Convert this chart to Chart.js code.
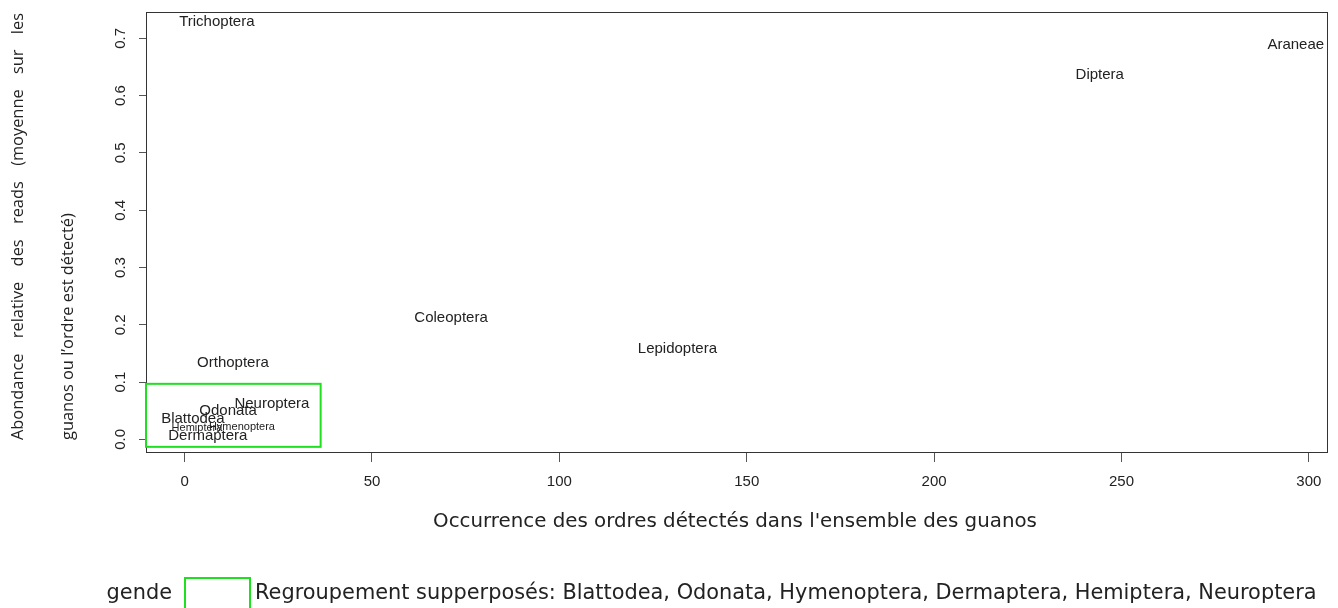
<!DOCTYPE html>
<html lang="fr">
<head>
<meta charset="UTF-8">
<script src="https://cdn.jsdelivr.net/npm/chart.js"></script>
<title>Ordres détectés</title>
<style>
  body{margin:0; background:#fff;}
  #wrap{width:1338px; height:608px;}
</style>
</head>
<body>
<div id="wrap"><canvas id="myChart" width="1338" height="608"></canvas></div>
<script>
// ordres et valeurs
const orders = ['Trichoptera','Araneae','Diptera','Coleoptera','Lepidoptera','Orthoptera',
  'Neuroptera','Odonata','Blattodea','Hymenoptera','Hemiptera','Dermaptera'];
const occurrence = [8.6, 296.5, 244.2, 71.1, 131.5, 12.9, 23.3, 11.6, 2.2, 15.3, 3.3, 6.2];
const abundance = [0.728, 0.688, 0.636, 0.212, 0.158, 0.133, 0.062, 0.049, 0.035, 0.0215, 0.0197, 0.006];
const smallLabels = ['Hymenoptera','Hemiptera'];

const xTicks = [0, 50, 100, 150, 200, 250, 300];
const yTicks = [0.0, 0.1, 0.2, 0.3, 0.4, 0.5, 0.6, 0.7];

// rectangle vert des points superposés
const groupX = [-10.3, 36.3];
const groupY = [-0.013, 0.097];

const xTitle = "Occurrence des ordres détectés dans l'ensemble des guanos";
const yTitle1 = 'Abondance relative des reads (moyenne sur les';
const yTitle2 = 'guanos ou l’ordre est détecté)';
const legendLead = 'gende';
const legendText = 'Regroupement supperposés: Blattodea, Odonata, Hymenoptera, Dermaptera, Hemiptera, Neuroptera';

function fitSize(ctx, text, family, width){
  ctx.font = '100px ' + family;
  return 100 * width / ctx.measureText(text).width;
}

const drawPlugin = {
  id: 'drawPlugin',
  afterDraw(chart){
    const ctx = chart.ctx;
    const a = chart.chartArea;
    const xs = chart.scales.x, ys = chart.scales.y;
    ctx.save();

    // cadre
    ctx.strokeStyle = '#333';
    ctx.lineWidth = 1;
    ctx.strokeRect(Math.round(a.left)+0.5, Math.round(a.top)+0.5, Math.round(a.right-a.left)-1, Math.round(a.bottom-a.top));

    // étiquettes des ordres
    ctx.fillStyle = '#222';
    ctx.textAlign = 'center';
    ctx.textBaseline = 'middle';
    for(let i=0;i<orders.length;i++){
      const small = smallLabels.includes(orders[i]);
      ctx.font = (small ? '11px' : '15px') + ' "Liberation Sans", Arial, sans-serif';
      ctx.fillText(orders[i], xs.getPixelForValue(occurrence[i]), ys.getPixelForValue(abundance[i]));
    }

    // rectangle vert
    ctx.strokeStyle = '#1fe01f';
    ctx.lineWidth = 2;
    const rx0 = xs.getPixelForValue(groupX[0]), rx1 = xs.getPixelForValue(groupX[1]);
    const ry0 = ys.getPixelForValue(groupY[1]), ry1 = ys.getPixelForValue(groupY[0]);
    ctx.strokeRect(rx0, ry0, rx1-rx0, ry1-ry0);

    // étiquettes de l'axe y (verticales)
    ctx.fillStyle = '#222';
    ctx.font = '15px "Liberation Sans", Arial, sans-serif';
    yTicks.forEach(v => {
      ctx.save();
      ctx.translate(121, ys.getPixelForValue(v));
      ctx.rotate(-Math.PI/2);
      ctx.textAlign = 'center';
      ctx.textBaseline = 'middle';
      ctx.fillText(v.toFixed(1), 0, 0);
      ctx.restore();
    });

    // titre de l'axe x
    const fx = fitSize(ctx, xTitle, '"DejaVu Sans", sans-serif', 604);
    ctx.font = fx.toFixed(2) + 'px "DejaVu Sans", sans-serif';
    ctx.fillStyle = '#222';
    ctx.textAlign = 'center';
    ctx.textBaseline = 'middle';
    ctx.fillText(xTitle, 735, 522);

    // titre de l'axe y, deux lignes
    const fy = fitSize(ctx, yTitle2, '"Open Sans", sans-serif', 227);
    ctx.font = fy.toFixed(2) + 'px "Open Sans", sans-serif';
    ctx.save();
    ctx.translate(18, 440);
    ctx.rotate(-Math.PI/2);
    ctx.textAlign = 'left';
    ctx.textBaseline = 'middle';
    const words = yTitle1.split(' ');
    const total = words.reduce((s,w) => s + ctx.measureText(w).width, 0);
    const gap = (427 - total) / (words.length - 1);
    let px = 0;
    words.forEach(w => { ctx.fillText(w, px, 0); px += ctx.measureText(w).width + gap; });
    ctx.restore();
    ctx.save();
    ctx.translate(68, 440);
    ctx.rotate(-Math.PI/2);
    ctx.textAlign = 'left';
    ctx.textBaseline = 'middle';
    ctx.fillText(yTitle2, 0, 0);
    ctx.restore();

    // légende du bas
    const fl = fitSize(ctx, legendText, '"DejaVu Sans", sans-serif', 1062);
    ctx.font = fl.toFixed(2) + 'px "DejaVu Sans", sans-serif';
    ctx.fillStyle = '#222';
    ctx.textBaseline = 'middle';
    ctx.textAlign = 'right';
    ctx.fillText(legendLead, 172, 594);
    ctx.textAlign = 'left';
    ctx.fillText(legendText, 255, 594);
    ctx.strokeStyle = '#1fe01f';
    ctx.lineWidth = 2;
    ctx.strokeRect(185, 578, 65, 40);

    ctx.restore();
  }
};

const ctx = document.getElementById('myChart');
new Chart(ctx, {
  type: 'scatter',
  data: {
    datasets: [{
      data: orders.map((o,i) => ({x: occurrence[i], y: abundance[i]})),
      pointRadius: 0,
      pointHoverRadius: 0
    }]
  },
  options: {
    responsive: false,
    animation: false,
    events: [],
    layout: {padding: {left: 0, right: 10, top: 12, bottom: 0}},
    plugins: {legend: {display: false}, tooltip: {enabled: false}},
    scales: {
      x: {
        type: 'linear',
        min: -10.3,
        max: 305.1,
        afterBuildTicks(s){ s.ticks = xTicks.map(v => ({value: v})); },
        afterFit(s){ s.height = 156; },
        grid: {drawOnChartArea: false, tickLength: 10, color: '#555', tickColor: '#555'},
        border: {display: false},
        ticks: {font: {family: '"Liberation Sans", Arial, sans-serif', size: 15}, color: '#222', padding: 11, maxRotation: 0}
      },
      y: {
        type: 'linear',
        min: -0.022,
        max: 0.746,
        afterBuildTicks(s){ s.ticks = yTicks.map(v => ({value: v})); },
        afterFit(s){ s.width = 146; },
        grid: {drawOnChartArea: false, tickLength: 7, color: '#555', tickColor: '#555'},
        border: {display: false},
        ticks: {display: false}
      }
    }
  },
  plugins: [drawPlugin]
});
</script>
</body>
</html>
